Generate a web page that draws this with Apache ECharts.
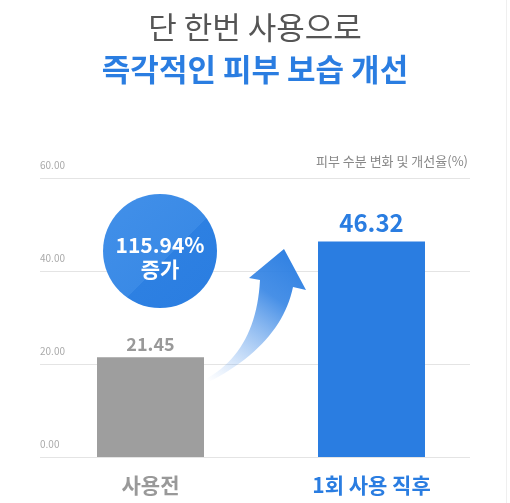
<!DOCTYPE html>
<html><head><meta charset="utf-8">
<script src="https://cdn.jsdelivr.net/npm/echarts@6/dist/echarts.min.js"></script>
<style>html,body{margin:0;padding:0;background:#fff}#c{width:510px;height:503px}</style>
</head><body><div id="c"></div>
<script>
const categories = ['사용전', '1회 사용 직후'];
const values = [21.45, 46.32];
const yMin = 0, yMax = 60, yInterval = 20;
const titleLine1 = '단 한번 사용으로';
const titleLine2 = '즉각적인 피부 보습 개선';
const unitText = '피부 수분 변화 및 개선율(%)';
const increaseText = '115.94%';
const increaseLabel = '증가';

const FONT = '"Noto Sans CJK KR", "Noto Sans", sans-serif';
const BLUE = '#2a7de1';
const GRAY = '#9e9e9e';
const barColors = [GRAY, BLUE];
const labelColors = ['#999999', BLUE];
const labelSizes = [18, 24];
const labelDistances = [4, 7];

// decorative arrow outline (quadratic curves sampled into a polygon)
function quad(p0, c, p2, n) {
  const pts = [];
  for (let k = 0; k <= n; k++) {
    const t = k / n, u = 1 - t;
    pts.push([u * u * p0[0] + 2 * u * t * c[0] + t * t * p2[0], u * u * p0[1] + 2 * u * t * c[1] + t * t * p2[1]]);
  }
  return pts;
}
const arrowPts = [].concat(
  quad([200, 382], [256, 355], [260, 280], 24),
  [[249, 278], [284, 249], [306, 290]],
  quad([293, 287], [281, 345], [207, 383], 24)
);

const chart = echarts.init(document.getElementById('c'));
chart.setOption({
  backgroundColor: '#fff',
  animation: false,
  textStyle: { fontFamily: FONT },
  title: [
    { text: titleLine1, left: 'center', top: 12, padding: 0,
      textStyle: { fontFamily: FONT, fontSize: 31, fontWeight: 'normal', color: '#555555' } },
    { text: titleLine2, left: 'center', top: 54, padding: 0,
      textStyle: { fontFamily: FONT, fontSize: 31, fontWeight: 'bold', color: BLUE } },
    { text: unitText, right: 42, top: 155, padding: 0,
      textStyle: { fontFamily: FONT, fontSize: 13, fontWeight: 'normal', color: '#888888' } }
  ],
  grid: [
    { left: 40, right: 40, top: 178, bottom: 46 },
    { left: 40, right: 28, top: 178, bottom: 46 }
  ],
  xAxis: [
    { type: 'category', gridIndex: 0, data: categories, show: false },
    { type: 'category', gridIndex: 1, data: categories,
      axisLine: { show: false }, axisTick: { show: false },
      axisLabel: {
        margin: 18, fontFamily: FONT, fontSize: 21, fontWeight: 'bold',
        formatter: function (v, i) { return '{c' + i + '|' + v + '}'; },
        rich: {
          c0: { color: '#999999', fontSize: 21, fontWeight: 'bold', fontFamily: FONT },
          c1: { color: BLUE, fontSize: 21, fontWeight: 'bold', fontFamily: FONT }
        }
      } }
  ],
  yAxis: [
    { type: 'value', gridIndex: 0, min: yMin, max: yMax, interval: yInterval,
      axisLine: { show: false }, axisTick: { show: false },
      splitLine: { show: true, lineStyle: { color: '#e4e4e4', width: 1 } },
      axisLabel: { inside: true, margin: 0, verticalAlign: 'bottom', padding: [0, 0, 8, 0],
        fontFamily: FONT, fontSize: 10, color: '#aaaaaa',
        formatter: function (v) { return v.toFixed(2); } } },
    { type: 'value', gridIndex: 1, min: yMin, max: yMax, interval: yInterval, show: false }
  ],
  series: [{
    type: 'bar', xAxisIndex: 1, yAxisIndex: 1, barWidth: 107,
    data: values.map(function (v, i) {
      return { value: v, itemStyle: { color: barColors[i] },
        label: { color: labelColors[i], fontSize: labelSizes[i], distance: labelDistances[i] } };
    }),
    label: { show: true, position: 'top', fontFamily: FONT, fontWeight: 'bold',
      formatter: function (p) { return p.value.toFixed(2); } }
  }],
  graphic: [
    { type: 'line', shape: { x1: 506.5, y1: 0, x2: 506.5, y2: 503 }, style: { stroke: '#efefef', lineWidth: 1 } },
    { type: 'polygon', z: 5,
      shape: { points: arrowPts },
      style: { fill: new echarts.graphic.LinearGradient(1, 0, 0.1, 1, [
        { offset: 0, color: 'rgba(42,125,225,1)' },
        { offset: 0.35, color: 'rgba(52,132,228,0.9)' },
        { offset: 0.75, color: 'rgba(90,155,235,0.35)' },
        { offset: 1, color: 'rgba(120,170,240,0)' }
      ]) } },
    { type: 'circle', z: 6, shape: { cx: 160, cy: 251, r: 57 },
      style: { fill: new echarts.graphic.LinearGradient(0, 0, 1, 1, [
        { offset: 0, color: '#4290e9' },
        { offset: 0.56, color: '#3a8ae6' },
        { offset: 0.56, color: '#2d80e2' },
        { offset: 1, color: '#2a7de1' }
      ]) } },
    { type: 'text', z: 7, x: 160, y: 245,
      style: { text: increaseText, fill: '#fff', font: 'bold 21px ' + FONT, textAlign: 'center', textVerticalAlign: 'middle' } },
    { type: 'text', z: 7, x: 160, y: 269,
      style: { text: increaseLabel, fill: '#fff', font: 'bold 21px ' + FONT, textAlign: 'center', textVerticalAlign: 'middle' } }
  ]
});
</script></body></html>
